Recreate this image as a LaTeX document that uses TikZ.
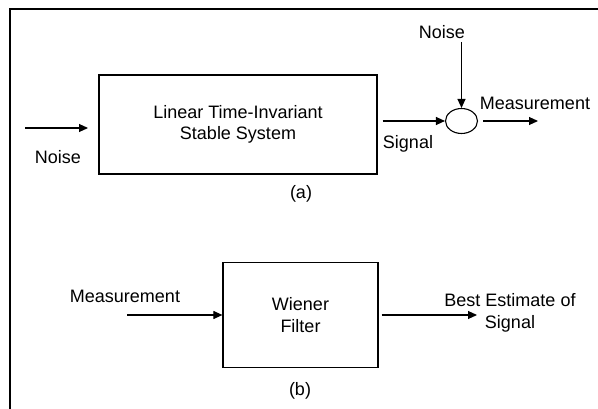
\documentclass[tikz,border=0pt]{standalone}
\usepackage{fontspec}
\setmainfont{Liberation Sans}
\usetikzlibrary{arrows.meta,shapes.geometric}
\begin{document}
\begin{tikzpicture}[x=1pt,y=-1pt,
  every node/.style={font=\fontsize{18}{21.5}\selectfont, inner sep=0pt},
  blockbox/.style={draw, line width=1.2pt},
  arr/.style={line width=1.1pt, -{Triangle[length=9pt,width=8pt]}},
  frameline/.style={line width=1.4pt}]
\useasboundingbox (0,0) rectangle (598,409);
% frame (top and left edges)
\coordinate (fr1) at (598,9);
\coordinate (fr2) at (10,9);
\coordinate (fr3) at (10,409);
\draw[frameline] (fr1) -- (fr2) -- (fr3);
% (a)
\node[blockbox, minimum width=278pt, minimum height=99pt, align=center] (sys) at (238,124.5)
  {Linear Time-Invariant\\Stable System};
\node[draw, ellipse, line width=1.1pt, minimum width=32pt, minimum height=25pt] (sum) at (461.5,121) {};
\coordinate (nin1) at (25,128);
\coordinate (nin2) at (88,128);
\draw[arr] (nin1) -- (nin2);
\node (noise1) at (58,157) {Noise};
\draw[arr, shorten <=5pt] (sys.east |- sum.west) -- (sum.west);
\node (signal) at (408,144) {Signal};
\node (noise2) at (442,32) {Noise};
\coordinate (ntop) at (461.5,42);
\draw[arr] (ntop) -- (sum.north);
\coordinate (mout) at (538,121);
\draw[arr, shorten <=5pt] (sum.east) -- (mout);
\node (meas1) at (535,103) {Measurement};
\node (capa) at (301,194) {(a)};
% (b)
\node[blockbox, minimum width=155pt, minimum height=105pt, align=center] (wf) at (300.5,315)
  {Wiener\\Filter};
\coordinate (min) at (127,315);
\draw[arr] (min) -- (wf.west);
\node (meas2) at (125,296) {Measurement};
\coordinate (bout) at (477,315);
\draw[arr, shorten <=3pt] (wf.east) -- (bout);
\node[align=center] (best) at (510,313) {Best Estimate of\\Signal};
\node (capb) at (300,391) {(b)};
\end{tikzpicture}
\end{document}
